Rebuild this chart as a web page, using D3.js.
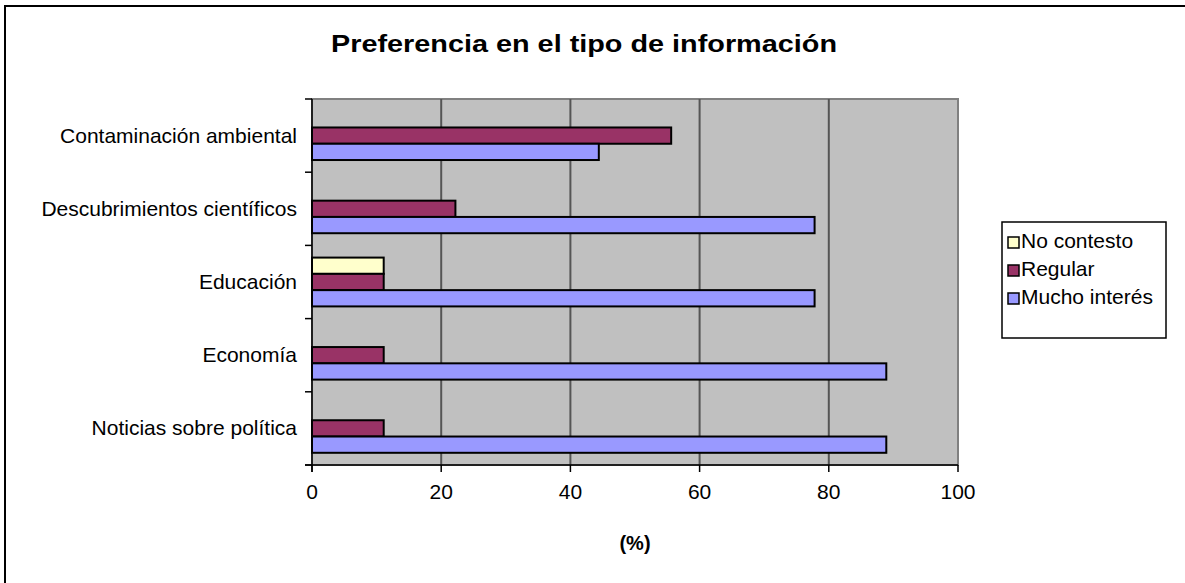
<!DOCTYPE html>
<html><head><meta charset="utf-8">
<script src="https://cdn.jsdelivr.net/npm/d3@7"></script>
<style>body{margin:0;background:#fff}svg{display:block;font-family:"Liberation Sans",Arial,sans-serif}</style>
</head><body><svg id="c" width="1185" height="583"></svg>
<script>
const categories = ["Contaminación ambiental","Descubrimientos científicos","Educación","Economía","Noticias sobre política"];
const seriesNames = ["No contesto","Regular","Mucho interés"];
const noContesto = [0,0,11.1,0,0];
const regular = [55.6,22.2,11.1,11.1,11.1];
const muchoInteres = [44.4,77.8,77.8,88.9,88.9];
const xTicks = [0,20,40,60,80,100];
const colors = ["#ffffcc","#993366","#9999ff"];
const seriesValues = [noContesto, regular, muchoInteres];

const svg = d3.select("#c");
const L=312,R=958,T=99,B=465;
// outer frame
svg.append("rect").attr("x",5).attr("y",6).attr("width",1190).attr("height",600).attr("fill","#fff").attr("stroke","#000").attr("stroke-width",2);
// title
svg.append("text").attr("x",584).attr("y",52).attr("text-anchor","middle").attr("font-size",24).attr("font-weight","bold")
  .attr("textLength",506).attr("lengthAdjust","spacingAndGlyphs").text("Preferencia en el tipo de información");

const x = d3.scaleLinear().domain([0,100]).range([L,R]);
const y = d3.scaleBand().domain(categories).range([T,B]).paddingInner(0.333).paddingOuter(0.1667);
const ys = d3.scaleBand().domain(seriesNames).range([0,y.bandwidth()]);

svg.append("rect").attr("x",L).attr("y",T).attr("width",R-L).attr("height",B-T).attr("fill","#c0c0c0").attr("stroke","#808080").attr("stroke-width",2);
// gridlines
svg.append("g").selectAll("line").data(xTicks.slice(1,-1)).join("line")
  .attr("x1",d=>x(d)).attr("x2",d=>x(d)).attr("y1",T).attr("y2",B).attr("stroke","#555").attr("stroke-width",2);

// bars
seriesNames.forEach((s,si)=>{
  svg.append("g").selectAll("rect").data(categories.map((c,i)=>({c,v:seriesValues[si][i]})).filter(d=>d.v>0)).join("rect")
    .attr("x",x(0)).attr("y",d=>y(d.c)+ys(s)).attr("width",d=>x(d.v)-x(0)).attr("height",ys.bandwidth())
    .attr("fill",colors[si]).attr("stroke","#000").attr("stroke-width",2);
});

// y axis
const catBounds = d3.range(categories.length+1).map(i=>T+i*(B-T)/categories.length);
svg.append("line").attr("x1",L).attr("x2",L).attr("y1",T).attr("y2",B+7).attr("stroke","#000").attr("stroke-width",1.5);
svg.append("g").selectAll("line").data(catBounds).join("line").attr("x1",L-7).attr("x2",L).attr("y1",d=>d).attr("y2",d=>d).attr("stroke","#000").attr("stroke-width",1.5);
svg.append("g").selectAll("text").data(categories).join("text")
  .attr("x",297).attr("y",d=>y(d)+y.bandwidth()/2+7).attr("text-anchor","end").attr("font-size",21).text(d=>d);

// x axis
svg.append("line").attr("x1",L-7).attr("x2",R).attr("y1",B).attr("y2",B).attr("stroke","#000").attr("stroke-width",1.5);
svg.append("g").selectAll("line").data(xTicks).join("line").attr("x1",d=>x(d)).attr("x2",d=>x(d)).attr("y1",B).attr("y2",B+7).attr("stroke","#000").attr("stroke-width",1.5);
svg.append("g").selectAll("text").data(xTicks).join("text")
  .attr("x",d=>x(d)).attr("y",499).attr("text-anchor","middle").attr("font-size",21).text(d=>d);
svg.append("text").attr("x",635).attr("y",550).attr("text-anchor","middle").attr("font-size",20).attr("font-weight","bold").text("(%)");

// legend
const lg = svg.append("g");
lg.append("rect").attr("x",1002).attr("y",222).attr("width",164).attr("height",116).attr("fill","#fff").attr("stroke","#000").attr("stroke-width",1.5);
seriesNames.forEach((s,i)=>{
  const yy = 241+i*28;
  lg.append("rect").attr("x",1008).attr("y",yy-4).attr("width",11).attr("height",11).attr("fill",colors[i]).attr("stroke","#000").attr("stroke-width",1.5);
  lg.append("text").attr("x",1021).attr("y",yy+7).attr("font-size",21).text(s);
});
</script></body></html>
